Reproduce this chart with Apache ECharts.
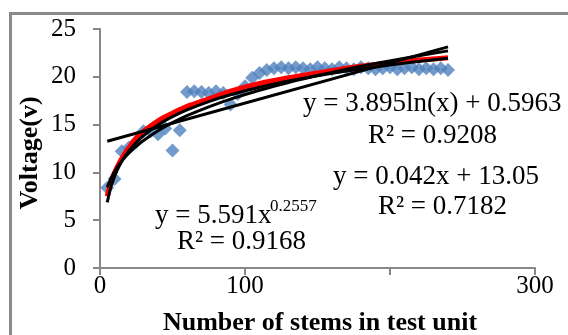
<!DOCTYPE html>
<html>
<head>
<meta charset="utf-8">
<script src="https://cdn.jsdelivr.net/npm/echarts@6/dist/echarts.min.js"></script>
<style>
html, body { margin: 0; padding: 0; background: #fff; }
#chart { width: 568px; height: 335px; }
</style>
</head>
<body>
<div id="chart"></div>
<script>
// measured points
const stems = [5, 10, 15, 20, 25, 30, 35, 40, 45, 50, 55, 60, 65, 70, 75, 80, 85, 90, 95, 100,
  105, 110, 115, 120, 125, 130, 135, 140, 145, 150, 155, 160, 165, 170, 175, 180, 185, 190,
  195, 200, 205, 210, 215, 220, 225, 230, 235, 240]
const voltage = [8.4, 9.3, 12.2, 12.6, 13.2, 14.3, 14.3, 14.0, 14.6, 12.3, 14.4, 18.4, 18.5, 18.4,
  18.3, 18.5, 18.3, 17.1, 18.2, 19.0, 19.9, 20.4, 20.7, 20.9, 21.0, 20.9, 21.0, 20.9, 20.8, 21.0,
  20.9, 20.8, 21.0, 20.9, 20.8, 21.0, 20.9, 20.8, 20.9, 21.0, 20.8, 20.9, 21.0, 20.8, 20.9, 20.8,
  20.9, 20.7]

// trendlines
const trendX = [5, 8, 12, 16, 20, 25, 30, 40, 50, 60, 75, 90, 110, 130, 150, 170, 190, 215, 240]
const logTrend = [6.87, 8.70, 10.28, 11.40, 12.27, 13.13, 13.84, 14.97, 15.83, 16.54, 17.41, 18.12,
  18.90, 19.56, 20.11, 20.60, 21.03, 21.52, 21.95]
const powerTrend = [8.44, 9.51, 10.55, 11.36, 12.03, 12.73, 13.34, 14.36, 15.20, 15.93, 16.86, 17.67,
  18.60, 19.41, 20.13, 20.79, 21.39, 22.08, 22.71]
const redTrend = [7.5, 9.2, 10.6, 11.7, 12.6, 13.6, 14.3, 15.4, 16.2, 16.9, 17.7, 18.5,
  19.3, 19.9, 20.4, 20.9, 21.3, 21.7, 22.0]
const linearX = [5, 240]
const linearTrend = [13.26, 23.13]

const xTicks = [0, 100, 200, 300]
const xTickShown = [0, 100, 300]
const yTicks = [0, 5, 10, 15, 20, 25]

const serif = '"Liberation Serif", "Times New Roman", serif'
const zip = (xs, ys) => xs.map((x, i) => [x, ys[i]])

const chart = echarts.init(document.getElementById('chart'))

const trendLine = (data, color, width, smooth) => ({
  type: 'line',
  data,
  smooth,
  showSymbol: false,
  silent: true,
  lineStyle: { color, width },
  z: 3
})

const eqText = (x, y, text, size) => ({
  type: 'text',
  x, y,
  silent: true,
  style: { text, fill: '#000', fontSize: size || 27, fontFamily: serif, verticalAlign: 'middle' }
})

chart.setOption({
  animation: false,
  grid: { left: 100, right: 33, top: 29, bottom: 67 },
  xAxis: {
    type: 'value',
    min: xTicks[0],
    max: xTicks[xTicks.length - 1],
    interval: 100,
    splitLine: { show: false },
    axisLine: { lineStyle: { color: '#878787', width: 2 } },
    axisTick: { show: true, length: 7, lineStyle: { color: '#878787', width: 2 } },
    axisLabel: {
      color: '#000', fontSize: 25, fontFamily: serif, margin: 6,
      formatter: v => xTickShown.includes(v) ? String(v) : ''
    }
  },
  yAxis: {
    type: 'value',
    min: yTicks[0],
    max: yTicks[yTicks.length - 1],
    interval: 5,
    splitLine: { show: false },
    axisLine: { show: true, lineStyle: { color: '#878787', width: 2 } },
    axisTick: { show: true, length: 7, lineStyle: { color: '#878787', width: 2 } },
    axisLabel: { color: '#000', fontSize: 25, fontFamily: serif, margin: 24 }
  },
  series: [
    {
      type: 'scatter',
      data: zip(stems, voltage),
      symbol: 'diamond',
      symbolSize: 14,
      itemStyle: { color: '#4f81bd' },
      z: 2
    },
    trendLine(zip(trendX, redTrend), '#ff0000', 5, 0.3),
    trendLine(zip(trendX, logTrend), '#000', 3, 0.3),
    trendLine(zip(trendX, powerTrend), '#000', 3, 0.3),
    trendLine(zip(linearX, linearTrend), '#000', 3, false)
  ],
  graphic: [
    {
      type: 'rect', silent: true,
      shape: { x: 10.5, y: 13.5, width: 700, height: 500 },
      style: { fill: 'none', stroke: '#8a8a8a', lineWidth: 3 }
    },
    eqText(303, 104, 'y = 3.895ln(x) + 0.5963'),
    eqText(368, 136, 'R² = 0.9208'),
    eqText(333, 177, 'y = 0.042x + 13.05'),
    eqText(378, 207, 'R² = 0.7182'),
    eqText(155, 216, 'y = 5.591x'),
    eqText(270, 207, '0.2557', 17),
    eqText(177, 242, 'R² = 0.9168'),
    {
      type: 'text', x: 30, y: 153, rotation: Math.PI / 2, silent: true,
      style: { text: 'Voltage(v)', fill: '#000', fontSize: 26, fontWeight: 'bold', fontFamily: serif, align: 'center', verticalAlign: 'middle' }
    },
    {
      type: 'text', x: 320, y: 323, silent: true,
      style: { text: 'Number of stems in test unit', fill: '#000', fontSize: 26, fontWeight: 'bold', fontFamily: serif, align: 'center', verticalAlign: 'middle' }
    }
  ]
})
</script>
</body>
</html>
